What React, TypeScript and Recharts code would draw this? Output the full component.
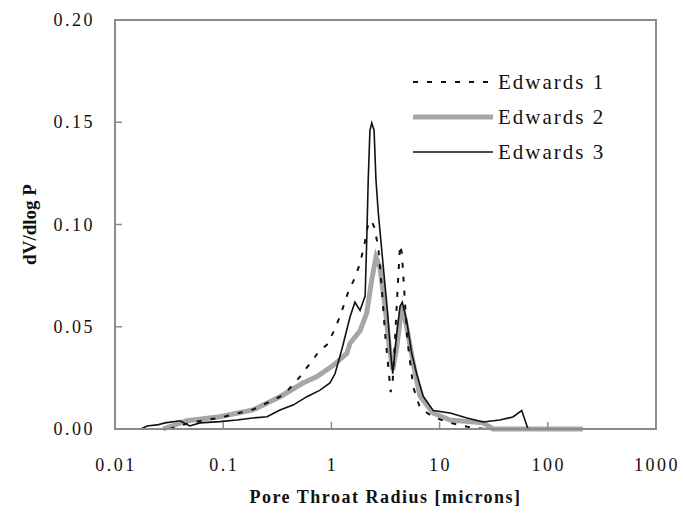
import { LineChart, Line, XAxis, YAxis, ReferenceArea, Legend } from "recharts";

// axis ticks
const xTicks = [0.01, 0.1, 1, 10, 100, 1000];
const xTickLabels = ["0.01", "0.1", "1", "10", "100", "1000"];
const yTicks = [0, 0.05, 0.1, 0.15, 0.2];
const yTickLabels = ["0.00", "0.05", "0.10", "0.15", "0.20"];

const seriesNames = ["Edwards 1", "Edwards 2", "Edwards 3"];

// Edwards 1 (dashed)
const e1Radius = [0.032, 0.049, 0.093, 0.188, 0.335, 0.414, 0.513, 0.634, 0.785, 0.904, 1.035, 1.2, 1.43, 1.65, 1.84, 2.05, 2.19, 2.33, 2.48, 2.71, 2.92, 3.13, 3.36, 3.53, 3.69, 3.87, 4.1, 4.31, 4.48, 4.69, 5.03, 5.71, 6.59, 8.7, 12.5, 20.4, 29.2];
const e1Value = [0, 0.003, 0.0055, 0.0095, 0.0158, 0.02, 0.0256, 0.032, 0.0386, 0.041, 0.047, 0.055, 0.067, 0.074, 0.081, 0.092, 0.1006, 0.102, 0.099, 0.089, 0.069, 0.047, 0.03, 0.018, 0.024, 0.0435, 0.0695, 0.09, 0.086, 0.0695, 0.0435, 0.0205, 0.0103, 0.0059, 0.003, 0.0005, 0];

// Edwards 2 (thick grey)
const e2Radius = [0.0278, 0.046, 0.093, 0.188, 0.335, 0.547, 0.736, 1.035, 1.39, 1.49, 1.84, 2.12, 2.36, 2.58, 2.81, 3.13, 3.43, 3.69, 4.02, 4.31, 4.52, 4.96, 5.71, 6.59, 8.7, 12.5, 25.2, 31.2, 211];
const e2Value = [0, 0.004, 0.006, 0.0093, 0.0158, 0.0225, 0.0256, 0.031, 0.037, 0.042, 0.048, 0.0567, 0.073, 0.084, 0.079, 0.06, 0.04, 0.029, 0.04, 0.053, 0.06, 0.05, 0.032, 0.016, 0.0078, 0.0044, 0.003, 0, 0];

// Edwards 3 (thin black)
const e3Radius = [0.0111, 0.0174, 0.0198, 0.0245, 0.029, 0.04, 0.049, 0.061, 0.093, 0.134, 0.188, 0.254, 0.335, 0.442, 0.594, 0.785, 0.97, 1.08, 1.25, 1.49, 1.65, 1.84, 2.05, 2.12, 2.19, 2.27, 2.36, 2.48, 2.58, 2.71, 3.02, 3.29, 3.53, 3.69, 4.02, 4.31, 4.52, 4.96, 5.52, 6.14, 7.06, 8.74, 12.5, 17.9, 25.2, 36, 47.6, 57.4, 61.5, 65.6, 211];
const e3Value = [0, 0, 0.0015, 0.002, 0.003, 0.004, 0.0015, 0.003, 0.0036, 0.0044, 0.0054, 0.006, 0.0093, 0.0117, 0.0158, 0.019, 0.0225, 0.027, 0.039, 0.055, 0.062, 0.058, 0.065, 0.092, 0.122, 0.146, 0.1496, 0.146, 0.122, 0.106, 0.079, 0.058, 0.037, 0.027, 0.047, 0.06, 0.062, 0.053, 0.037, 0.027, 0.016, 0.009, 0.0078, 0.0054, 0.0034, 0.0044, 0.0059, 0.009, 0.0044, 0, 0];

const rows = (r: number[], v: number[]) => r.map((x, i) => ({ x, y: v[i] }));
const e1 = rows(e1Radius, e1Value);
const e2 = rows(e2Radius, e2Value);
const e3 = rows(e3Radius, e3Value);

const FRAME = "#8c8c8c";
const INK = "#111";
const GREY = "#a6a6a6";
const DASH = "5 9";
const SERIF = "'Liberation Serif', 'Times New Roman', serif";
const TICK_FONT = { fontFamily: SERIF, fontSize: 18, letterSpacing: 2.5, fill: INK };

function XTick(props: any) {
  const { x, y, payload } = props;
  const i = xTicks.indexOf(payload.value);
  return (
    <g>
      <line x1={x} y1={y} x2={x} y2={y - 7} stroke={FRAME} strokeWidth={1.5} />
      <text x={x + 1} y={y + 42} textAnchor="middle" style={TICK_FONT}>
        {i >= 0 ? xTickLabels[i] : String(payload.value)}
      </text>
    </g>
  );
}

function YTick(props: any) {
  const { x, y, payload } = props;
  const i = yTicks.indexOf(payload.value);
  return (
    <g>
      <line x1={x} y1={y} x2={x + 7} y2={y} stroke={FRAME} strokeWidth={1.5} />
      <text x={x - 20} y={y + 6} textAnchor="end" style={TICK_FONT}>
        {i >= 0 ? yTickLabels[i] : String(payload.value)}
      </text>
    </g>
  );
}

function renderLegend() {
  const styles = [
    { stroke: INK, strokeWidth: 2, strokeDasharray: DASH },
    { stroke: GREY, strokeWidth: 5, strokeDasharray: undefined },
    { stroke: INK, strokeWidth: 1.6, strokeDasharray: undefined },
  ];
  return (
    <svg width={240} height={110}>
      {seriesNames.map((name, i) => {
        const cy = 20 + i * 35;
        return (
          <g key={name}>
            <line x1={8} x2={88} y1={cy} y2={cy} {...styles[i]} strokeLinecap="butt" />
            <text x={93} y={cy + 7} style={{ fontFamily: SERIF, fontSize: 21, letterSpacing: 2, fill: INK }}>
              {name}
            </text>
          </g>
        );
      })}
    </svg>
  );
}

export default function App() {
  return (
    <div style={{ position: "absolute", left: 0, top: 0, width: 683, height: 517, background: "#fff" }}>
      <LineChart width={683} height={517} margin={{ top: 20, right: 27, bottom: 0, left: 0 }}>
        <XAxis
          dataKey="x"
          type="number"
          scale="log"
          domain={[0.01, 1000]}
          ticks={xTicks}
          allowDataOverflow
          height={88}
          tickSize={0}
          tickMargin={0}
          tickLine={false}
          tick={<XTick />}
          axisLine={{ stroke: FRAME, strokeWidth: 2 }}
          label={(p: any) => {
            const vb = p.viewBox;
            return (
              <text
                x={vb.x + vb.width / 2}
                y={vb.y + 74}
                textAnchor="middle"
                style={{ fontFamily: SERIF, fontSize: 18, fontWeight: 700, letterSpacing: 1.5, fill: INK }}
              >
                Pore Throat Radius [microns]
              </text>
            );
          }}
        />
        <YAxis
          type="number"
          domain={[0, 0.2]}
          ticks={yTicks}
          width={115}
          tickSize={0}
          tickMargin={0}
          tickLine={false}
          tick={<YTick />}
          axisLine={{ stroke: FRAME, strokeWidth: 2 }}
          label={(p: any) => {
            const vb = p.viewBox;
            const cx = vb.x + 36;
            const cy = vb.y + vb.height / 2;
            return (
              <text
                x={cx}
                y={cy}
                textAnchor="middle"
                transform={`rotate(-90 ${cx} ${cy})`}
                style={{ fontFamily: SERIF, fontSize: 19, fontWeight: 700, fill: INK }}
              >
                dV/dlog P
              </text>
            );
          }}
        />
        <ReferenceArea x1={0.01} x2={1000} y1={0} y2={0.2} fill="none" stroke={FRAME} strokeWidth={2} />
        <Legend
          layout="horizontal"
          verticalAlign="middle"
          align="center"
          content={renderLegend}
          wrapperStyle={{ position: "absolute", left: 405, top: 62, width: 240, height: 110 }}
        />
        <Line data={e2} dataKey="y" name={seriesNames[1]} type="linear" stroke={GREY} strokeWidth={5} dot={false} activeDot={false} isAnimationActive={false} />
        <Line data={e1} dataKey="y" name={seriesNames[0]} type="linear" stroke={INK} strokeWidth={2} strokeDasharray={DASH} dot={false} activeDot={false} isAnimationActive={false} />
        <Line data={e3} dataKey="y" name={seriesNames[2]} type="linear" stroke={INK} strokeWidth={1.6} dot={false} activeDot={false} isAnimationActive={false} />
      </LineChart>
    </div>
  );
}
